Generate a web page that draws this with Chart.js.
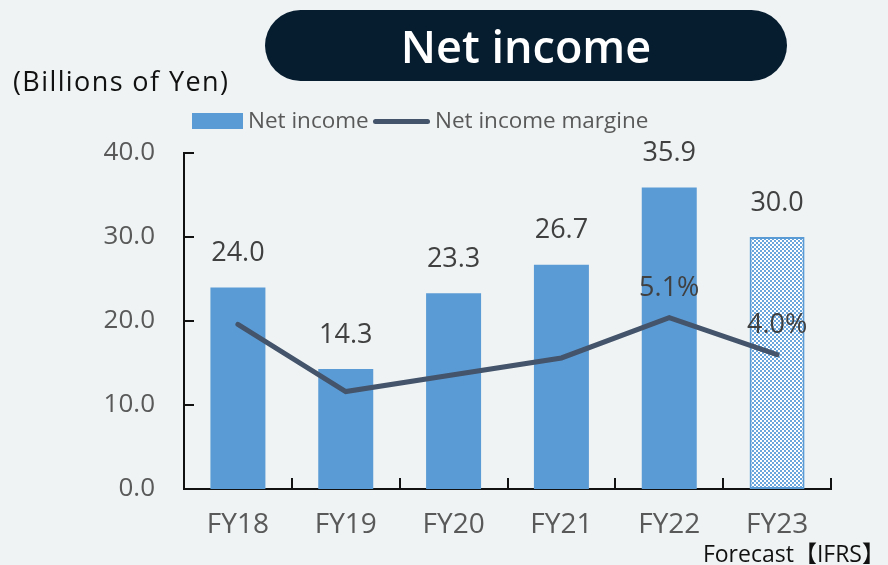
<!DOCTYPE html>
<html>
<head>
<meta charset="utf-8">
<script src="https://cdn.jsdelivr.net/npm/chart.js@4.4.1/dist/chart.umd.min.js"></script>
<style>
  html, body { margin: 0; padding: 0; background: #eff3f4; }
  #wrap { position: relative; width: 888px; height: 565px; overflow: hidden; font-family: "Open Sans", "Noto Sans CJK JP", sans-serif; }
  #wrap canvas { position: absolute; left: 0; top: 0; }
  .pill { position: absolute; left: 265px; top: 10px; width: 522px; height: 71px; border-radius: 36px;
          background: #061d30; color: #fff; font-size: 45px; font-weight: 600; text-align: center; line-height: 71px; }
  .unit { position: absolute; left: 13px; top: 62px; font-size: 27px; letter-spacing: 1.4px; color: #111; white-space: nowrap; }
  .foot { position: absolute; right: 3px; top: 535px; font-size: 23px; color: #111; white-space: nowrap; }
  .lg { position: absolute; font-size: 22.5px; color: #595959; white-space: nowrap; line-height: 24px; }
  .sw-box { position: absolute; left: 192px; top: 113px; width: 51px; height: 16px; background: #5b9bd5; }
  .sw-line { position: absolute; left: 373px; top: 119px; width: 57px; height: 5px; border-radius: 3px; background: #44546a; }
</style>
</head>
<body>
<div id="wrap">
  <canvas id="chart" width="888" height="565"></canvas>
  <div class="pill">Net income</div>
  <div class="unit">(Billions of Yen)</div>
  <div class="sw-box"></div>
  <div class="lg" style="left:248px; top:108px;">Net income</div>
  <div class="sw-line"></div>
  <div class="lg" style="left:435px; top:108px;">Net income margine</div>
  <div class="foot">Forecast【IFRS】</div>
</div>
<script>
// data
const years = ['FY18', 'FY19', 'FY20', 'FY21', 'FY22', 'FY23'];
const netIncome = [24.0, 14.3, 23.3, 26.7, 35.9, 30.0];
const marginPct = [4.9, 2.9, 3.4, 3.9, 5.1, 4.0];
const marginLabels = ['', '', '', '', '5.1%', '4.0%'];
const yTicks = [0, 10, 20, 30, 40];

const blue = '#5b9bd5';
const slate = '#44546a';
const fontFam = '"Open Sans", "Noto Sans", sans-serif';

// checkered fill for the forecast bar
function makePattern() {
  const c = document.createElement('canvas');
  c.width = 4; c.height = 4;
  const g = c.getContext('2d');
  g.fillStyle = '#6aa5dc';
  g.fillRect(0, 0, 4, 4);
  g.fillStyle = '#ffffff';
  g.fillRect(0, 0, 2, 2);
  g.fillRect(2, 2, 2, 2);
  return g.createPattern(c, 'repeat');
}
const ctx = document.getElementById('chart').getContext('2d');
const pattern = makePattern();

// inward tick marks + value labels
const extras = {
  id: 'extras',
  afterDatasetsDraw(chart) {
    const { ctx, scales: { x, y } } = chart;
    const area = chart.chartArea;
    ctx.save();
    ctx.strokeStyle = '#111';
    ctx.lineWidth = 2;
    yTicks.forEach(v => {
      const py = Math.round(y.getPixelForValue(v));
      ctx.beginPath();
      ctx.moveTo(area.left, py);
      ctx.lineTo(area.left + 10, py);
      ctx.stroke();
    });
    const step = x.getPixelForValue(1) - x.getPixelForValue(0);
    for (let i = 0; i < years.length; i++) {
      const px = Math.round(x.getPixelForValue(i) + step / 2);
      ctx.beginPath();
      ctx.moveTo(px, area.bottom);
      ctx.lineTo(px, area.bottom - 11);
      ctx.stroke();
    }

    ctx.fillStyle = '#404040';
    ctx.font = '27px ' + fontFam;
    ctx.textAlign = 'center';
    ctx.textBaseline = 'middle';
    chart.getDatasetMeta(0).data.forEach((bar, i) => {
      ctx.fillText(netIncome[i].toFixed(1), bar.x, bar.y - 34);
    });
    chart.getDatasetMeta(1).data.forEach((pt, i) => {
      if (marginLabels[i]) ctx.fillText(marginLabels[i], pt.x, pt.y - 29);
    });
    ctx.restore();
  }
};

new Chart(ctx, {
  data: {
    labels: years,
    datasets: [
      {
        type: 'bar',
        label: 'Net income',
        data: netIncome,
        backgroundColor: netIncome.map((v, i) => i === 5 ? pattern : blue),
        borderColor: blue,
        borderWidth: netIncome.map((v, i) => i === 5 ? 2 : 0),
        borderSkipped: false,
        categoryPercentage: 1,
        barPercentage: 0.51,
        yAxisID: 'y',
        order: 1
      },
      {
        type: 'line',
        label: 'Net income margine',
        data: marginPct,
        borderColor: slate,
        borderWidth: 5,
        borderCapStyle: 'round',
        pointRadius: 0,
        tension: 0,
        yAxisID: 'y2',
        order: 0
      }
    ]
  },
  options: {
    responsive: false,
    animation: false,
    layout: { padding: { top: 153, right: 57, left: 0, bottom: 0 } },
    plugins: { legend: { display: false }, title: { display: false }, tooltip: { enabled: false } },
    scales: {
      x: {
        offset: true,
        grid: { display: false, drawTicks: false },
        border: { color: '#111', width: 2 },
        ticks: { color: '#595959', font: { size: 28, family: fontFam }, padding: 19 },
        afterFit(s) { s.height = 76; }
      },
      y: {
        min: 0, max: 40,
        grid: { display: false, drawTicks: false },
        border: { color: '#111', width: 2 },
        ticks: {
          stepSize: 10,
          color: '#595959',
          font: { size: 26, family: fontFam },
          padding: 29,
          callback: v => v.toFixed(1)
        },
        afterFit(s) { s.width = 184; }
      },
      y2: { min: 0, max: 10, display: false }
    }
  },
  plugins: [extras]
});
</script>
</body>
</html>
